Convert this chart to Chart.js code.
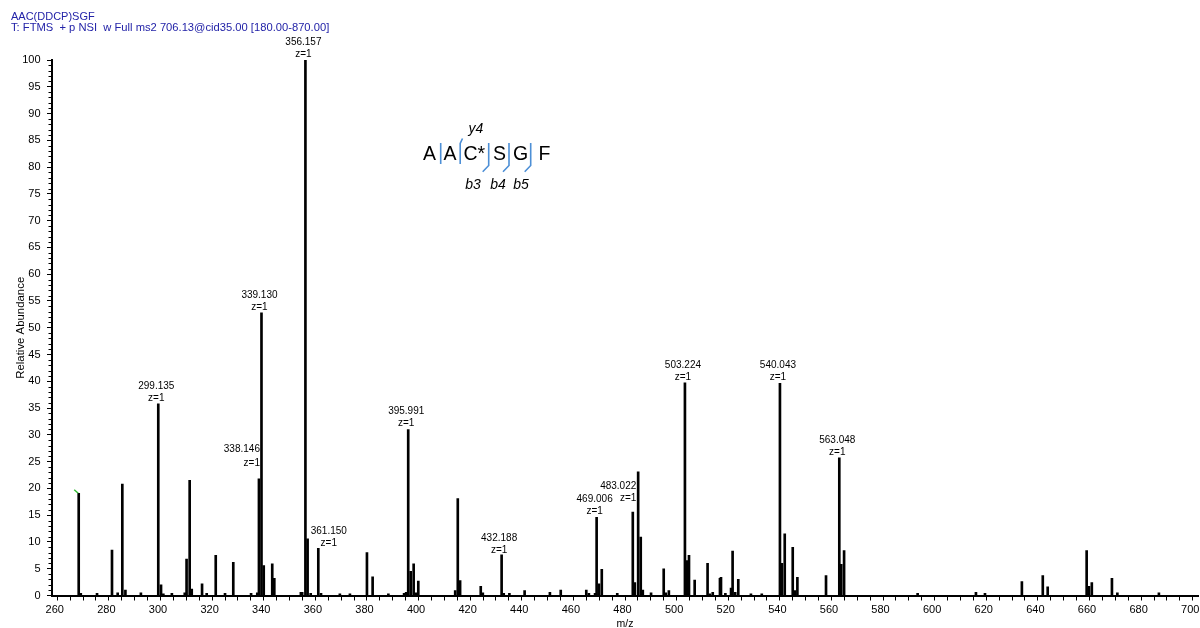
<!DOCTYPE html>
<html>
<head>
<meta charset="utf-8">
<script src="https://cdn.jsdelivr.net/npm/chart.js@4.4.1/dist/chart.umd.min.js"></script>
<style>
  html, body { margin: 0; padding: 0; background: #fff; }
  #spectrum { display: block; }
</style>
</head>
<body>
<canvas id="spectrum" width="1200" height="628"></canvas>
<script>
// Peak list (m/z, relative abundance %)
const peakMz = [
    268.3, 269.1, 275.4, 281.2, 283.4, 285.2, 286.4, 292.4, 299.135, 300.2,
    301.1, 304.4, 309.4, 310.1, 311.3, 312.1, 316.1, 317.9, 321.4, 325.0,
    328.2, 335.1, 337.5, 338.146, 339.130, 340.0, 343.3, 344.1, 354.4, 354.9,
    356.157, 357.0, 358.2, 361.150, 362.2, 369.5, 373.4, 380.0, 382.2, 388.3,
    394.4, 395.2, 395.991, 396.95, 398.1, 399.0, 399.9, 414.2, 415.2, 416.1,
    424.1, 424.9, 432.188, 433.0, 435.2, 441.1, 450.9, 455.1, 465.0, 466.0,
    468.4, 469.006, 469.9, 471.0, 477.0, 483.022, 483.8, 485.1, 486.1, 486.9,
    490.1, 495.0, 495.8, 497.0, 503.224, 503.9, 504.8, 507.0, 512.0, 512.9,
    514.0, 516.8, 517.2, 518.9, 521.1, 521.7, 522.7, 523.9, 528.8, 533.0,
    540.043, 540.8, 541.9, 545.0, 545.8, 546.8, 557.9, 563.048, 563.8, 564.9,
    593.4, 616.0, 619.5, 633.8, 641.9, 643.8, 658.9, 659.8, 660.9, 668.7,
    670.8, 686.9
];
const peakAbundance = [
    19.1, 0.4, 0.4, 8.5, 0.5, 20.8, 1.0, 0.5, 35.8, 2.0,
    0.3, 0.4, 0.5, 6.8, 21.5, 1.2, 2.2, 0.4, 7.5, 0.4,
    6.2, 0.4, 0.5, 21.8, 52.8, 5.6, 5.9, 3.2, 0.6, 0.6,
    100, 10.6, 0.4, 8.8, 0.4, 0.3, 0.3, 8.0, 3.5, 0.3,
    0.4, 0.6, 31.0, 4.5, 5.9, 0.5, 2.7, 0.9, 18.1, 2.8,
    1.7, 0.5, 7.6, 0.4, 0.4, 0.9, 0.6, 1.0, 1.0, 0.4,
    0.4, 14.6, 2.2, 4.9, 0.4, 15.6, 2.4, 23.1, 10.9, 1.0,
    0.5, 5.0, 0.5, 0.9, 39.7, 6.5, 7.5, 2.9, 6.0, 0.3,
    0.6, 3.2, 3.4, 0.4, 1.4, 8.3, 0.6, 3.0, 0.3, 0.3,
    39.6, 6.0, 11.5, 9.0, 0.9, 3.4, 3.7, 25.7, 5.8, 8.4,
    0.4, 0.6, 0.4, 2.6, 3.7, 1.6, 8.4, 1.7, 2.4, 3.2,
    0.5, 0.5
];

// Annotated peaks
const labelMz = [299.135, 338.146, 339.130, 356.157, 361.150, 395.991, 432.188, 469.006, 483.022, 503.224, 540.043, 563.048];
const labelCharge = ['z=1', 'z=1', 'z=1', 'z=1', 'z=1', 'z=1', 'z=1', 'z=1', 'z=1', 'z=1', 'z=1', 'z=1'];

// Axis ticks
const xTickLabels = [260, 280, 300, 320, 340, 360, 380, 400, 420, 440, 460, 480, 500, 520, 540, 560, 580, 600, 620, 640, 660, 680, 700];
const yTickLabels = [0, 5, 10, 15, 20, 25, 30, 35, 40, 45, 50, 55, 60, 65, 70, 75, 80, 85, 90, 95, 100];

const headerLines = ['AAC(DDCP)SGF', 'T: FTMS  + p NSI  w Full ms2 706.13@cid35.00 [180.00-870.00]'];
const residues = ['A', 'A', 'C*', 'S', 'G', 'F'];
const yIonLabels = ['y4'];
const bIonLabels = ['b3', 'b4', 'b5'];

const FONT = '"Liberation Sans", Arial, Helvetica, sans-serif';
const HEADER_BLUE = '#2323a8';
const ION_BLUE = '#4d8fd6';

// label placement tweaks where the original moved labels aside
const labelLayout = {
    '338.146': { align: 'right', dx: 1, dy1: -27, dy2: -12.5 },
    '361.150': { align: 'center', dx: 10.5, dy1: -14, dy2: -2.5 },
    '432.188': { align: 'center', dx: -2.5, dy1: -13.5, dy2: -2 },
    '483.022': { align: 'right', dx: 3.5, dy1: -22.5, dy2: -10.5 }
};

const annotationPlugin = {
    id: 'spectrumAnnotations',
    afterDraw(chart) {
        const ctx = chart.ctx;
        const yScale = chart.scales.y;
        const area = chart.chartArea;
        const meta = chart.getDatasetMeta(0);

        ctx.save();

        // minor y ticks
        ctx.strokeStyle = '#000';
        ctx.lineWidth = 1;
        ctx.beginPath();
        for (let v = 0; v <= 100; v++) {
            if (v % 5 === 0) continue;
            const py = Math.round(yScale.getPixelForValue(v)) + 0.5;
            ctx.moveTo(area.left - 3.5, py);
            ctx.lineTo(area.left, py);
        }
        ctx.stroke();

        // header
        ctx.fillStyle = HEADER_BLUE;
        ctx.textAlign = 'left';
        ctx.textBaseline = 'alphabetic';
        ctx.font = '11px ' + FONT;
        ctx.fillText(headerLines[0], 11, 20);
        ctx.font = '11.2px ' + FONT;
        ctx.fillText(headerLines[1], 11, 31);

        // peak labels
        ctx.fillStyle = '#000';
        ctx.font = '10px ' + FONT;
        labelMz.forEach((m, j) => {
            const i = peakMz.indexOf(m);
            if (i < 0) return;
            const bar = meta.data[i];
            const lay = labelLayout[m.toFixed(3)] || { align: 'center', dx: -2, dy1: -15, dy2: -3 };
            ctx.textAlign = lay.align;
            ctx.fillText(m.toFixed(3), bar.x + lay.dx, bar.y + lay.dy1);
            ctx.fillText(labelCharge[j], bar.x + lay.dx, bar.y + lay.dy2);
        });

        // little green marker on the first peak
        const first = meta.data[0];
        ctx.strokeStyle = '#2fb82f';
        ctx.lineWidth = 1.4;
        ctx.beginPath();
        ctx.moveTo(first.x - 4.5, first.y - 3.5);
        ctx.lineTo(first.x - 0.5, first.y);
        ctx.stroke();

        // peptide sequence with fragment brackets
        const letterX = [423, 443.5, 463.5, 493, 513, 538.5];
        ctx.fillStyle = '#000';
        ctx.font = '19.5px ' + FONT;
        ctx.textAlign = 'left';
        residues.forEach((r, k) => ctx.fillText(r, letterX[k], 159.5));

        ctx.strokeStyle = ION_BLUE;
        ctx.lineWidth = 1.6;
        ctx.beginPath();
        // plain cut between A and A
        ctx.moveTo(440.7, 143); ctx.lineTo(440.7, 164);
        // y4
        ctx.moveTo(462.5, 138.5); ctx.lineTo(460.2, 143.5); ctx.lineTo(460.2, 164);
        // b3, b4, b5
        [488.7, 509, 530.7].forEach(bx => {
            ctx.moveTo(bx, 143); ctx.lineTo(bx, 165.5); ctx.lineTo(bx - 6, 171.8);
        });
        ctx.stroke();

        ctx.fillStyle = '#000';
        ctx.font = 'italic 14px ' + FONT;
        ctx.textAlign = 'center';
        ctx.fillText(yIonLabels[0], 476, 133);
        [473, 498, 521].forEach((bx, k) => ctx.fillText(bIonLabels[k], bx, 188.5));

        ctx.restore();
    }
};

new Chart(document.getElementById('spectrum').getContext('2d'), {
    type: 'bar',
    data: {
        datasets: [{
            data: peakMz.map((m, i) => ({ x: m, y: peakAbundance[i] })),
            backgroundColor: '#000',
            borderWidth: 0,
            barThickness: 2
        }]
    },
    options: {
        responsive: false,
        animation: false,
        events: [],
        layout: { padding: { top: 60, right: 2, left: 0, bottom: 0 } },
        plugins: { legend: { display: false }, tooltip: { enabled: false } },
        scales: {
            x: {
                type: 'linear',
                min: 257.95,
                max: 702.05,
                offset: false,
                afterBuildTicks: scale => {
                    const t = [];
                    for (let v = 260; v <= 700; v += 5) t.push({ value: v });
                    scale.ticks = t;
                },
                afterFit: scale => {
                    scale.height = 32.5;
                    scale.paddingLeft = 0;
                    scale.paddingRight = 0;
                },
                grid: { display: true, drawOnChartArea: false, offset: false, tickLength: 5, tickColor: '#000', tickWidth: 1 },
                border: { display: true, color: '#000', width: 2 },
                ticks: {
                    autoSkip: false,
                    maxRotation: 0,
                    padding: 3,
                    labelOffset: -2.5,
                    color: '#000',
                    font: { family: FONT, size: 11 },
                    callback: v => xTickLabels.includes(v) ? String(v) : ''
                },
                title: {
                    display: true,
                    text: 'm/z',
                    color: '#000',
                    font: { family: FONT, size: 10.5, lineHeight: 1 },
                    padding: { top: 0, bottom: -1.5 }
                }
            },
            y: {
                min: 0,
                max: 100,
                afterBuildTicks: scale => { scale.ticks = yTickLabels.map(v => ({ value: v })); },
                afterFit: scale => {
                    scale.width = 52;
                    scale.paddingTop = 0;
                    scale.paddingBottom = 0;
                },
                grid: { display: true, drawOnChartArea: false, tickLength: 5, tickColor: '#000', tickWidth: 1 },
                border: { display: true, color: '#000', width: 2 },
                ticks: {
                    padding: 6.5,
                    color: '#000',
                    font: { family: FONT, size: 11 },
                    callback: v => String(v)
                },
                title: {
                    display: true,
                    text: 'Relative Abundance',
                    color: '#000',
                    font: { family: FONT, size: 11.4 },
                    padding: { top: 14.5, bottom: 0 }
                }
            }
        }
    },
    plugins: [annotationPlugin]
});
</script>
</body>
</html>
